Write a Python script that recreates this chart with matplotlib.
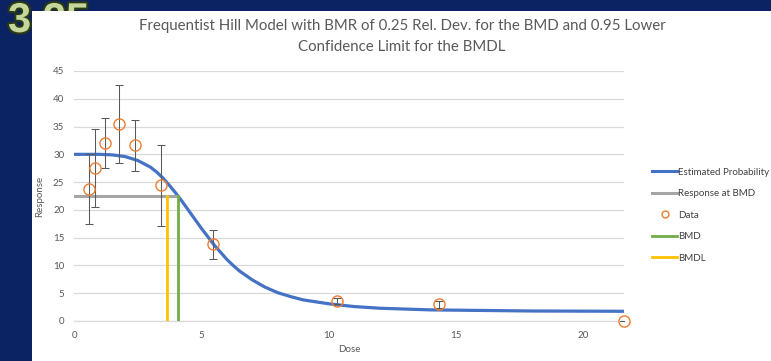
import matplotlib
matplotlib.use("Agg")
import matplotlib.pyplot as plt
from matplotlib.lines import Line2D
from matplotlib.patches import Rectangle
import matplotlib.patheffects as pe

plt.rcParams['font.family'] = ['Lato', 'DejaVu Sans']

# Observed data (dose, mean response, error bar limits)
dose = [0.60, 0.84, 1.23, 1.75, 2.40, 3.40, 5.45, 10.32, 14.35, 21.6]
resp = [23.8, 27.6, 32.0, 35.5, 31.6, 24.4, 13.8, 3.6, 3.0, 0.0]
err_hi = [30.1, 34.5, 36.5, 42.5, 36.1, 31.7, 16.4, 4.2, 3.6, 0.0]
err_lo = [17.4, 20.5, 27.5, 28.4, 27.0, 17.1, 11.2, 3.0, 2.4, 0.0]

# Fitted Hill curve
curve_dose = [0, 0.5, 1.0, 1.5, 2.0, 2.5, 3.0, 3.25, 3.5, 3.75, 4.0, 4.25, 4.5,
              4.75, 5.0, 5.25, 5.5, 5.75, 6.0, 6.25, 6.5, 6.75, 7.0, 7.5, 8.0,
              8.5, 9.0, 10.0, 11.0, 12.0, 14.0, 16.0, 18.0, 21.6]
curve_resp = [30.0, 30.0, 30.0, 29.9, 29.6, 28.9, 27.7, 26.8, 25.7, 24.4, 23.0,
              21.5, 19.9, 18.3, 16.7, 15.2, 13.7, 12.4, 11.1, 10.0, 9.0, 8.2,
              7.4, 6.1, 5.1, 4.4, 3.8, 3.1, 2.6, 2.3, 2.0, 1.9, 1.8, 1.75]

bmd = 4.09
bmdl = 3.64
bmr_resp = 22.5

x_ticks = [0, 5, 10, 15, 20]
y_ticks = [0, 5, 10, 15, 20, 25, 30, 35, 40, 45]

W, H = 771, 361
fig = plt.figure(figsize=(W / 100, H / 100), dpi=100)
fig.patch.set_facecolor('#0B2263')

# "3.25" slide number peeking from behind the panel
fig.text(8 / W, 1 - 32 / H, '3.25', fontsize=30, fontweight='bold',
         color='#C3D69B', zorder=0, family='Liberation Sans',
         path_effects=[pe.withStroke(linewidth=3, foreground='#2B3A10')])

# white chart panel
fig.patches.append(Rectangle((32 / W, 0), 1 - 32 / W, 1 - 11 / H,
                             transform=fig.transFigure, facecolor='white',
                             edgecolor='none', zorder=1))

ax = fig.add_axes([74 / W, 40 / H, (624 - 74) / W, (321 - 71) / H])
ax.set_zorder(2)
ax.patch.set_alpha(0)

ax.set_xlim(0, 21.6)
ax.set_ylim(0, 45)
ax.set_xticks(x_ticks)
ax.set_yticks(y_ticks)
ax.grid(axis='y', color='#D9D9D9', linewidth=0.9)
ax.set_axisbelow(True)
for s in ['top', 'right', 'left']:
    ax.spines[s].set_visible(False)
ax.spines['bottom'].set_color('#D9D9D9')
ax.spines['bottom'].set_linewidth(0.9)
ax.tick_params(length=0, labelsize=7, labelcolor='#595959', pad=7)

ax.plot(curve_dose, curve_resp, color='#4472C4', lw=2.3, zorder=3,
        solid_capstyle='butt')
ax.plot([0, bmd], [bmr_resp, bmr_resp], color='#A5A5A5', lw=2.2, zorder=3)
ax.plot([bmd, bmd], [0, bmr_resp], color='#70AD47', lw=2.0, zorder=3)
ax.plot([bmdl, bmdl], [0, bmr_resp], color='#FFC000', lw=2.0, zorder=3)

yerr = [[r - lo for r, lo in zip(resp, err_lo)],
        [hi - r for r, hi in zip(resp, err_hi)]]
ax.errorbar(dose, resp, yerr=yerr, fmt='none', ecolor='#595959',
            elinewidth=0.75, capsize=3, capthick=0.75, zorder=4)
ax.plot(dose, resp, 'o', mfc='none', mec='#ED7D31', ms=8, mew=1.0,
        zorder=5, clip_on=False)

ax.set_xlabel('Dose', fontsize=7, color='#595959', labelpad=4)
ax.set_ylabel('Response', fontsize=7, color='#595959', labelpad=6)

fig.text(402 / W, 1 - 26 / H,
         'Frequentist Hill Model with BMR of 0.25 Rel. Dev. for the BMD and 0.95 Lower',
         ha='center', va='center', fontsize=10.8, color='#595959', zorder=3)
fig.text(402 / W, 1 - 47 / H, 'Confidence Limit for the BMDL',
         ha='center', va='center', fontsize=10.8, color='#595959', zorder=3)

handles = [
    Line2D([], [], color='#4472C4', lw=2.2),
    Line2D([], [], color='#A5A5A5', lw=2.2),
    Line2D([], [], ls='none', marker='o', mfc='none', mec='#ED7D31', ms=5, mew=1.0),
    Line2D([], [], color='#70AD47', lw=2.0),
    Line2D([], [], color='#FFC000', lw=2.0),
]
labels = ['Estimated Probability', 'Response at BMD', 'Data', 'BMD', 'BMDL']
leg = fig.legend(handles, labels, loc='upper left',
                 bbox_to_anchor=(648 / W, 1 - 164 / H), frameon=False,
                 fontsize=7, handlelength=2.6, handletextpad=0.1,
                 labelspacing=1.28, borderaxespad=0)
for t in leg.get_texts():
    t.set_color('#404040')
leg.set_zorder(3)

fig.savefig('out.png', dpi=100, facecolor=fig.get_facecolor())
